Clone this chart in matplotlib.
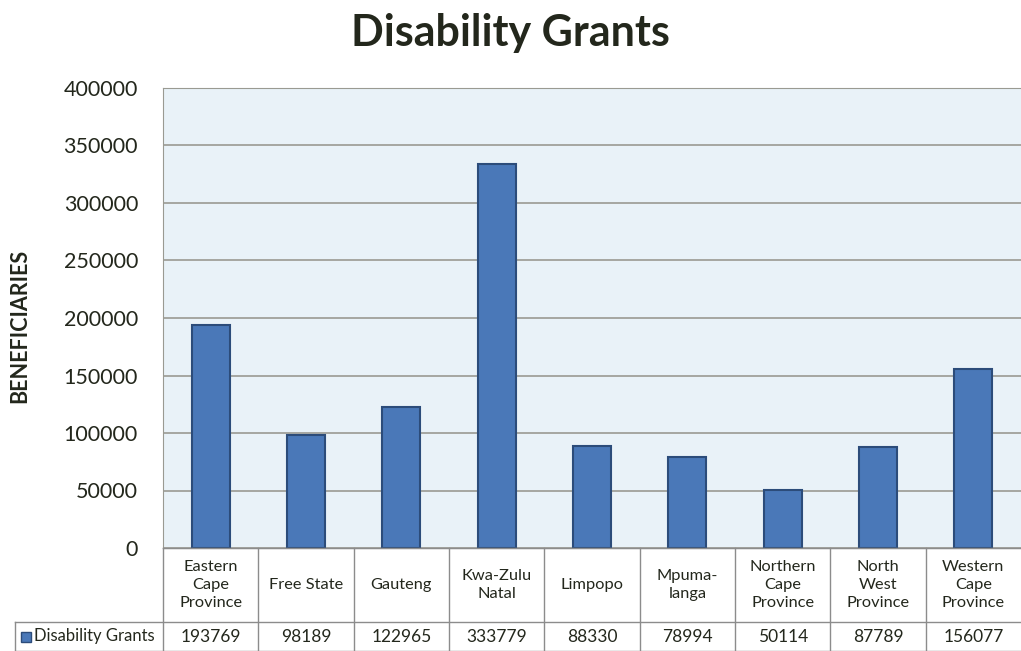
import numpy as np
import matplotlib as mpl
mpl.use('Agg')
import matplotlib.pyplot as plt

# data
provinces = ['Eastern\nCape\nProvince', 'Free State', 'Gauteng', 'Kwa-Zulu\nNatal', 'Limpopo',
             'Mpuma-\nlanga', 'Northern\nCape\nProvince', 'North\nWest\nProvince', 'Western\nCape\nProvince']
grants = [193769, 98189, 122965, 333779, 88330, 78994, 50114, 87789, 156077]
series_name = 'Disability Grants'
yticks = [0, 50000, 100000, 150000, 200000, 250000, 300000, 350000, 400000]

plt.rcParams['font.family'] = ['Lato', 'DejaVu Sans']
text_c = '#23271c'

W, H = 1021, 651
fig = plt.figure(figsize=(W / 100, H / 100), dpi=100)

left, right, top, bottom = 163, 1021, 88, 548
ax = fig.add_axes([left / W, (H - bottom) / H, (right - left) / W, (bottom - top) / H])
ax.set_facecolor('#e9f2f8')

x = np.arange(len(grants))
bar_blue = '#4a78b8'
edge_blue = '#2c4c7a'
ax.bar(x, grants, width=0.4, color=bar_blue, edgecolor=edge_blue, linewidth=1.5, zorder=3)

ax.set_xlim(-0.5, len(grants) - 0.5)
ax.set_ylim(0, 400000)
ax.set_yticks(yticks)
ax.set_yticklabels([str(v) for v in yticks], fontsize=15.5, color=text_c)
ax.set_xticks([])
ax.grid(axis='y', color='#9a9a92', linewidth=1.2, zorder=1)
ax.tick_params(axis='y', length=0, pad=18)
for side in ('top', 'left'):
    ax.spines[side].set_color('#9a9a92')
ax.spines['right'].set_visible(False)
ax.spines['bottom'].set_color('#9a9a92')

fig.text(0.5, 1 - 33 / H, 'Disability Grants', ha='center', va='center',
         fontsize=31, fontweight='bold', color=text_c)
fig.text(20 / W, 1 - 326 / H, 'BENEFICIARIES', rotation=90, ha='center', va='center',
         fontsize=15.5, fontweight='bold', color=text_c)

# data table below the chart, in pixel units vertically
tax = fig.add_axes([left / W, 0, (right - left) / W, (H - bottom) / H])
tax.set_xlim(-0.5, len(grants) - 0.5)
tax.set_ylim(0, H - bottom)
tax.axis('off')
line_c = '#8c8c8c'
row_mid = 29   # boundary between category row and value row
cat_top = H - bottom
x_header = -0.5 - (left - 15) / ((right - left) / len(grants))

tax.plot([-0.5, len(grants) - 0.5], [cat_top, cat_top], color=line_c, lw=1, clip_on=False)
tax.plot([x_header, len(grants) - 0.5], [row_mid, row_mid], color=line_c, lw=1, clip_on=False)
tax.plot([x_header, len(grants) - 0.5], [0.5, 0.5], color=line_c, lw=1, clip_on=False)
tax.plot([x_header, x_header], [0, row_mid], color=line_c, lw=1, clip_on=False)
for i in range(len(grants)):
    tax.plot([i - 0.5, i - 0.5], [0, cat_top], color=line_c, lw=1, clip_on=False)
    tax.text(i, (row_mid + cat_top) / 2, provinces[i], ha='center', va='center',
             fontsize=11.8, linespacing=1.4, color=text_c)
    tax.text(i, row_mid / 2, str(grants[i]), ha='center', va='center',
             fontsize=12.5, color=text_c)

tax.plot([x_header + 0.12], [row_mid / 2], marker='s', ms=7, color=bar_blue,
         mec=edge_blue, clip_on=False)
tax.text(x_header + 0.2, row_mid / 2, series_name, ha='left', va='center',
         fontsize=12, color=text_c)

plt.savefig('out.png', dpi=100)
